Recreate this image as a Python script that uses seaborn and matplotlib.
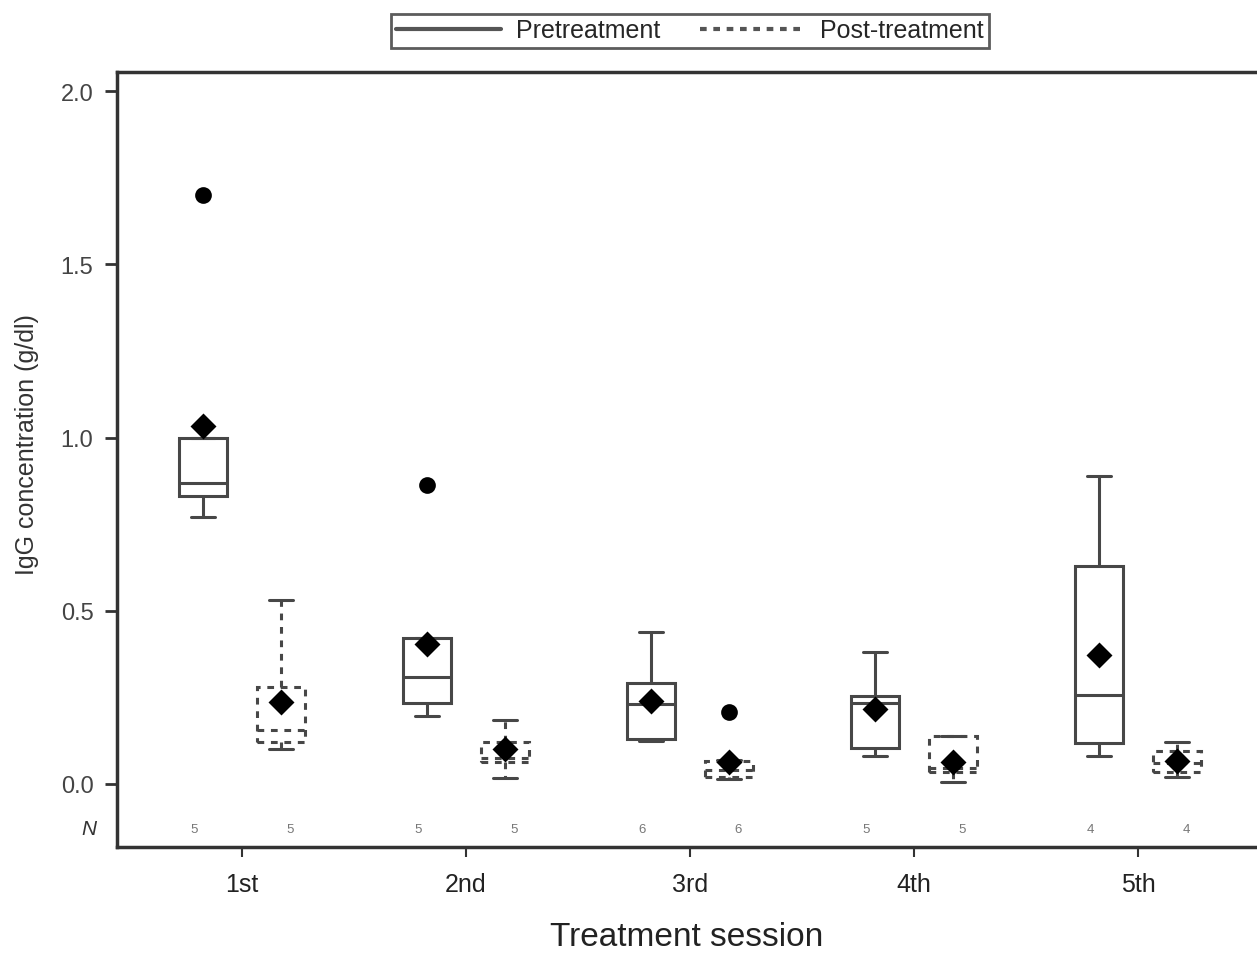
import numpy as np
import pandas as pd
import matplotlib.pyplot as plt
import seaborn as sns
from matplotlib import font_manager
from matplotlib.lines import Line2D
from matplotlib.ticker import FormatStrFormatter

sessions = ["1st", "2nd", "3rd", "4th", "5th"]
phases = ["Pretreatment", "Post-treatment"]

# box summaries: whisker low, Q1, median, Q3, whisker high
pre_low = [0.77, 0.195, 0.125, 0.08, 0.08]
pre_q1 = [0.83, 0.235, 0.13, 0.105, 0.118]
pre_med = [0.87, 0.31, 0.23, 0.235, 0.257]
pre_q3 = [1.00, 0.42, 0.29, 0.255, 0.629]
pre_high = [1.00, 0.42, 0.44, 0.38, 0.89]
pre_mean = [1.034, 0.404, 0.24, 0.216, 0.372]
pre_n = [5, 5, 6, 5, 4]

post_low = [0.10, 0.017, 0.015, 0.006, 0.02]
post_q1 = [0.12, 0.063, 0.02, 0.035, 0.035]
post_med = [0.155, 0.075, 0.04, 0.045, 0.06]
post_q3 = [0.28, 0.12, 0.065, 0.139, 0.095]
post_high = [0.53, 0.185, 0.07, 0.139, 0.12]
post_mean = [0.236, 0.10, 0.063, 0.063, 0.066]
post_n = [5, 5, 6, 5, 4]

outlier_session = ["1st", "2nd", "3rd"]
outlier_phase = ["Pretreatment", "Pretreatment", "Post-treatment"]
outlier_value = [1.70, 0.863, 0.208]

# pick an Arial-like (ideally narrow) font if there is one
available = {f.name for f in font_manager.fontManager.ttflist}
font = "DejaVu Sans"
for name in ["Liberation Sans Narrow", "Liberation Sans", "Arimo"]:
    if name in available:
        font = name
        break

sns.set_style("white")
plt.rcParams["font.family"] = [font, "DejaVu Sans"]

# long tables for seaborn
rows = []
for phase, stats in [("Pretreatment", (pre_low, pre_q1, pre_med, pre_q3, pre_high)),
                     ("Post-treatment", (post_low, post_q1, post_med, post_q3, post_high))]:
    for i, s in enumerate(sessions):
        for arr in stats:
            rows.append((s, phase, arr[i]))
box_df = pd.DataFrame(rows, columns=["session", "phase", "igg"])

mean_df = pd.DataFrame({"session": sessions * 2,
                        "phase": [phases[0]] * 5 + [phases[1]] * 5,
                        "igg": pre_mean + post_mean})
out_df = pd.DataFrame({"session": outlier_session, "phase": outlier_phase, "igg": outlier_value})

fig = plt.figure(figsize=(12.57, 9.54), dpi=100)
ax = fig.add_axes([117 / 1257, 106 / 954, 1 - 117 / 1257, 775 / 954])

line_col = "#474747"
box_width = 0.696
box_gap = 0.385
box_kw = dict(x="session", y="igg", hue="phase", order=sessions, hue_order=phases,
              dodge=True, width=box_width, gap=box_gap, whis=np.inf, showfliers=False,
              linecolor=line_col, linewidth=2.2,
              palette={"Pretreatment": "white", "Post-treatment": "white"},
              legend=False, ax=ax)
sns.boxplot(data=box_df[box_df.phase == "Pretreatment"], **box_kw)
dash = (0, (2.2, 2.2))
sns.boxplot(data=box_df[box_df.phase == "Post-treatment"],
            boxprops=dict(linestyle=dash), whiskerprops=dict(linestyle=dash),
            medianprops=dict(linestyle=dash), **box_kw)

black = {"Pretreatment": "black", "Post-treatment": "black"}
sns.pointplot(data=mean_df, x="session", y="igg", hue="phase", order=sessions, hue_order=phases,
              dodge=box_width / 2, linestyle="none", marker="D", markersize=11,
              palette=black, errorbar=None, legend=False, ax=ax, zorder=5)
sns.pointplot(data=out_df, x="session", y="igg", hue="phase", order=sessions, hue_order=phases,
              dodge=box_width / 2, linestyle="none", marker="o", markersize=10,
              palette=black, errorbar=None, legend=False, ax=ax, zorder=5)

# N counts under each box
for i in range(len(sessions)):
    ax.text(i - 0.214, -0.13, str(pre_n[i]), ha="center", va="center", fontsize=9.5, color="#777")
    ax.text(i + 0.214, -0.13, str(post_n[i]), ha="center", va="center", fontsize=9.5, color="#777")
ax.text(-0.025, -0.13, "N", transform=ax.get_yaxis_transform(), ha="center", va="center",
        fontsize=15, style="italic", color="#333")

ax.set_xlim(-0.558, 4.531)
ax.set_ylim(-0.182, 2.055)
ax.set_yticks([0, 0.5, 1.0, 1.5, 2.0])
ax.yaxis.set_major_formatter(FormatStrFormatter("%.1f"))

for side in ["left", "bottom", "top"]:
    ax.spines[side].set_linewidth(2.5)
    ax.spines[side].set_color("#333")
ax.spines["right"].set_visible(False)

ax.tick_params(axis="y", direction="out", length=9, width=2, color="#333",
               labelsize=17, labelcolor="#444", pad=8, left=True)
ax.tick_params(axis="x", direction="out", length=7, width=1.5, color="#333",
               labelsize=18, labelcolor="#222", pad=11, bottom=True)

ax.set_xlabel("Treatment session", fontsize=24, color="#222")
ax.xaxis.set_label_coords(0.5, -0.096)
ax.set_ylabel("IgG concentration (g/dl)", fontsize=18, color="#333")
ax.yaxis.set_label_coords(-0.068, 0.52)

handles = [Line2D([], [], color="#555", lw=3),
           Line2D([], [], color="#555", lw=3, linestyle=(0, (1.6, 1.6)))]
leg = fig.legend(handles, phases, loc="center", bbox_to_anchor=(690 / 1257, 1 - 31.5 / 954),
                 ncol=2, frameon=True, fancybox=False, edgecolor="#333", fontsize=18,
                 handlelength=4.2, columnspacing=1.6, borderpad=0.2, handletextpad=0.6)
leg.get_frame().set_linewidth(2)

plt.savefig("out.png", dpi=100)
